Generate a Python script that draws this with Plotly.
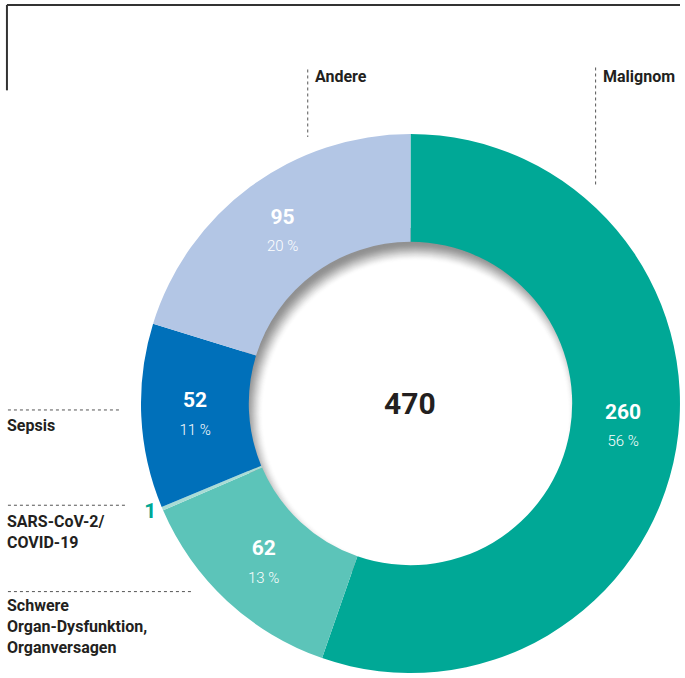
import plotly.graph_objects as go

# ---- data ----
categories = ["Malignom", "Schwere Organ-Dysfunktion, Organversagen", "SARS-CoV-2/COVID-19", "Sepsis", "Andere"]
values = [260, 62, 1, 52, 95]
percent_labels = ["56 %", "13 %", "", "11 %", "20 %"]
colors = ["#00A896", "#5CC4B9", "#A9DCD5", "#0070BA", "#B3C6E5"]
total = sum(values)

W, H = 685, 678
FONT = "Roboto, Liberation Sans, Arial, sans-serif"
DARK = "#231F20"

# pie geometry (pixels)
dom_x0 = 142 / W
dom_y1 = 543 / H
cx, cy = (142 + W) / 2, H - 543 / 2
R_out = 543 / 2
HOLE = 0.6
R_in = R_out * HOLE

texts = []
positions = []
for i, (v, p) in enumerate(zip(values, percent_labels)):
    if p:
        t = f"<b>{v}</b><br><span style='font-size:15px;font-weight:300'>{p}</span>"
        if i == 0:
            # lift the big slice label towards the horizontal axis
            t += "<br>&nbsp;"
        texts.append(t)
        positions.append("inside")
    else:
        texts.append(f"<b>{v}</b>")
        positions.append("outside")

fig = go.Figure(go.Pie(
    labels=categories,
    values=values,
    marker=dict(colors=colors, line=dict(width=0)),
    hole=HOLE,
    sort=False,
    direction="clockwise",
    rotation=0,
    text=texts,
    texttemplate="%{text}",
    textposition=positions,
    insidetextorientation="horizontal",
    insidetextfont=dict(color="white", size=21, family=FONT),
    outsidetextfont=dict(color="#00A896", size=21, family=FONT),
    domain=dict(x=[dom_x0, 1.0], y=[0.0, dom_y1]),
    showlegend=False,
    hoverinfo="label+value",
))

def px(x):
    return x / W

def py(y):
    return 1 - y / H

shapes = []

def circle(x, y, r, color):
    shapes.append(dict(type="circle", xref="paper", yref="paper", layer="below",
                       x0=px(x - r), x1=px(x + r), y0=py(y + r), y1=py(y - r),
                       fillcolor=color, line=dict(width=0)))

# inner shadow of the hole (blurred, offset white disk over grey)
circle(cx, cy, R_in + 14, "rgb(145,145,145)")
ox, oy, b = 5, 10, 9
N = 18
for j in range(1, N + 1):
    t = j / N
    s = t * t * (3 - 2 * t)
    g = int(round(145 + (255 - 145) * s))
    r = R_in + b - (2 * b) * (j - 1) / (N - 1)
    circle(cx + ox, cy + oy, r, f"rgb({g},{g},{g})")

def line(x0, y0, x1, y1, dash="solid", width=1, color="#555"):
    shapes.append(dict(type="line", xref="paper", yref="paper", layer="above",
                       x0=px(x0), x1=px(x1), y0=py(y0), y1=py(y1),
                       line=dict(color=color, width=width, dash=dash)))

# frame bracket
line(7, 5, W, 5, width=2, color="#333")
line(7, 5, 7, 91, width=2, color="#333")

# dotted leader lines
line(310, 70, 310, 138, dash="dot")
line(600, 68, 600, 186, dash="dot")
line(8, 413, 122, 413, dash="dot")
line(8, 509, 127, 509, dash="dot")
line(8, 596, 193, 596, dash="dot")

annotations = []

def label(x, y, text, size=16, color=DARK, anchor="left", yanchor="middle"):
    annotations.append(dict(xref="paper", yref="paper", x=px(x), y=py(y), text=text,
                            showarrow=False, xanchor=anchor, yanchor=yanchor, align="left",
                            font=dict(family=FONT, size=size, color=color)))

label(315, 77, f"<b>{categories[4]}</b>")
label(605, 77, f"<b>{categories[0]}</b>")
label(5, 429, f"<b>{categories[3]}</b>")
label(5, 536, "<b>SARS-CoV-2/<br>COVID-19</b>")
label(5, 631, "<b>Schwere<br>Organ-Dysfunktion,<br>Organversagen</b>")

# total in the centre
label(cx, cy, f"<b>{total}</b>", size=30, color=DARK, anchor="center")

fig.update_layout(
    width=W, height=H,
    margin=dict(l=0, r=0, t=0, b=0),
    paper_bgcolor="white",
    plot_bgcolor="white",
    shapes=shapes,
    annotations=annotations,
)

fig.write_html("out.html", config={"displayModeBar": False},
               post_script="document.body.style.margin='0';document.body.style.overflow='hidden';")
